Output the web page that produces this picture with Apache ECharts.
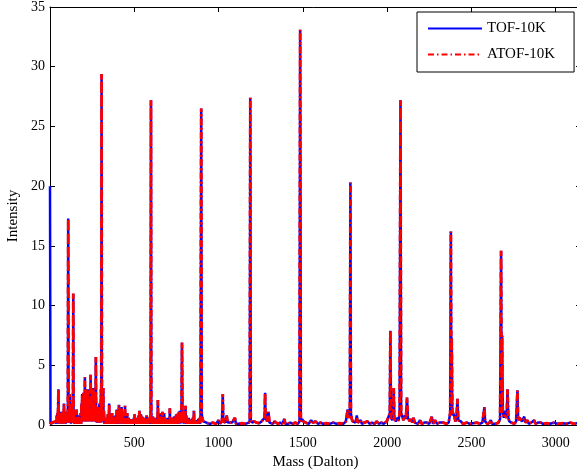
<!DOCTYPE html>
<html><head><meta charset="utf-8">
<script src="https://cdn.jsdelivr.net/npm/echarts@6/dist/echarts.min.js"></script>
<style>html,body{margin:0;padding:0;background:#fff}#c{width:577px;height:474px}</style>
</head><body><div id="c"></div>
<script>
// [mass (Dalton), intensity]
const lowMassTOF  = [[0,20],[3,0.1],[12,0.1],[20,0.2],[28,0.2],[35,0.3],[38,0.1]];
const lowMassATOF = [[0,0.1],[3,0.1],[12,0.2],[20,0.3],[28,0.3],[35,0.4],[38,0.1]];

// 40 - 904 Da: both traces coincide (dense region)
const denseRegion = [[40,0.8],[42,0.1],[44,1.0],[46,0.2],[48,1.3],[50,3.0],[52,0.2],[54,1.0],[56,0.1],[58,0.8],[60,0.1],[62,1.1],[64,0.2],[66,0.9],[68,0.1],[70,1.0],[72,0.2],[74,1.1],[76,0.1],[78,0.8],[80,0.2],[83,1.8],[85,0.1],[87,1.0],[89,0.2],[92,1.1],[94,0.1],[96,0.9],[99,0.2],[102,1.1],[104,0.2],[106,1.5],[108,17.3],[110,1.5],[112,0.2],[114,1.0],[116,0.2],[118,2.6],[120,0.2],[122,1.4],[124,0.1],[126,1.8],[128,0.2],[130,1.2],[132,0.2],[134,1.6],[136,0.3],[138,11.0],[140,0.3],[142,1.2],[144,0.1],[146,0.6],[149,0.1],[152,0.7],[155,0.1],[158,1.3],[161,0.1],[164,0.6],[167,0.1],[170,0.8],[173,0.1],[176,0.6],[179,0.1],[182,1.0],[185,0.1],[187,1.8],[189,0.3],[191,2.6],[193,0.3],[195,1.6],[197,0.3],[199,2.7],[201,0.3],[203,1.4],[205,0.3],[207,4.0],[209,0.3],[211,2.2],[213,3.0],[215,0.3],[217,1.8],[219,0.3],[221,2.8],[223,0.5],[225,3.0],[227,0.3],[229,1.8],[231,0.3],[233,2.4],[235,0.3],[237,1.6],[239,0.3],[241,4.2],[243,0.4],[245,2.2],[247,0.3],[249,3.1],[251,0.3],[253,1.8],[255,0.4],[257,3.1],[259,0.3],[261,1.6],[263,0.3],[265,2.7],[267,0.3],[269,1.6],[270,0.3],[272,5.7],[274,0.3],[276,1.3],[278,0.2],[280,1.5],[282,0.2],[284,1.0],[286,0.2],[288,1.3],[290,0.2],[293,1.8],[295,0.2],[298,1.1],[300,0.2],[302,3.0],[304,0.3],[306,29.4],[308,0.3],[310,3.0],[312,0.3],[314,1.6],[316,3.1],[318,0.2],[320,1.2],[322,0.1],[325,0.6],[328,0.1],[331,0.3],[334,0.1],[337,0.5],[340,0.1],[343,0.9],[345,0.1],[347,0.8],[349,0.1],[351,1.8],[353,0.1],[356,0.6],[358,0.1],[360,0.9],[362,0.1],[364,0.5],[366,0.1],[368,1.0],[371,0.1],[374,0.5],[376,0.1],[378,0.7],[380,0.1],[383,0.4],[385,0.1],[387,0.8],[389,0.1],[391,0.6],[393,0.1],[396,1.3],[398,0.1],[401,0.6],[403,0.1],[405,1.1],[407,0.1],[409,1.7],[411,0.1],[413,0.9],[415,0.1],[417,1.3],[419,0.1],[421,0.7],[423,0.1],[425,1.5],[427,0.1],[429,0.9],[431,0.1],[433,1.1],[435,0.1],[437,0.5],[439,0.1],[441,0.9],[443,0.1],[445,1.6],[447,0.1],[449,0.6],[451,0.1],[453,0.9],[455,0.1],[458,1.0],[460,0.1],[462,0.5],[465,0.1],[467,0.6],[470,0.1],[472,0.4],[475,0.1],[477,0.5],[480,0.1],[482,0.4],[485,0.1],[487,0.5],[490,0.1],[492,0.3],[495,0.1],[497,0.6],[500,0.1],[502,0.9],[504,0.1],[506,0.5],[508,0.1],[510,0.6],[513,0.1],[515,0.4],[518,0.1],[520,0.6],[523,0.1],[525,0.8],[528,0.1],[530,1.2],[533,0.1],[535,0.6],[538,0.1],[540,0.9],[542,0.1],[544,0.5],[546,0.1],[548,0.7],[551,0.1],[553,0.5],[556,0.1],[558,0.6],[561,0.1],[563,0.4],[566,0.1],[568,0.6],[571,0.1],[573,0.8],[576,0.1],[578,0.5],[581,0.1],[583,0.6],[586,0.1],[588,0.5],[591,0.1],[594,0.7],[596,0.2],[597,1.0],[599,27.2],[601,1.0],[603,0.1],[605,0.5],[608,0.1],[610,0.7],[613,0.1],[615,0.4],[618,0.1],[620,0.6],[623,0.1],[625,0.4],[628,0.1],[630,0.6],[633,0.1],[635,0.4],[638,0.1],[640,2.1],[642,0.1],[644,0.6],[646,0.1],[648,0.9],[651,0.1],[653,0.4],[655,0.1],[657,1.0],[660,0.1],[662,0.5],[665,0.1],[667,1.1],[670,0.1],[672,0.6],[675,0.1],[677,1.0],[680,0.1],[682,0.4],[685,0.1],[687,0.5],[690,0.1],[692,0.3],[695,0.1],[697,0.6],[700,0.1],[702,0.4],[705,0.1],[707,0.5],[709,0.1],[711,1.4],[713,0.1],[715,0.5],[718,0.1],[720,0.4],[723,0.1],[725,0.6],[728,0.1],[730,0.5],[733,0.1],[735,0.7],[738,0.1],[740,0.6],[743,0.1],[745,0.8],[748,0.1],[750,0.9],[753,0.1],[755,0.8],[758,0.1],[760,1.0],[763,0.1],[765,1.1],[768,0.1],[770,1.2],[773,0.1],[775,1.0],[778,0.2],[780,1.3],[783,6.9],[786,1.3],[788,0.2],[790,1.1],[793,0.1],[795,1.2],[798,0.1],[800,0.9],[802,0.1],[804,1.6],[806,0.1],[808,0.8],[811,0.1],[813,0.6],[816,0.1],[818,0.5],[821,0.1],[824,0.6],[827,0.1],[830,0.4],[833,0.1],[836,0.3],[839,0.1],[842,0.5],[845,0.1],[848,0.6],[851,0.1],[854,1.2],[856,0.1],[858,0.4],[862,0.1],[865,0.3],[868,0.1],[872,0.4],[876,0.1],[880,0.5],[884,0.1],[888,0.6],[891,0.1],[893,0.8],[897,26.5],[900,1.0],[904,0.5]];

// 910 - 3150 Da, shared by both traces
const highMassShared = [[910,0.3],[920,0.2],[935,0.15],[950,0.1],[965,0.2],[985,0.1],[1000,0.4],[1008,0.1],[1020,0.3],[1025,2.6],[1028,0.3],[1040,0.2],[1048,0.8],[1054,0.2],[1065,0.1],[1080,0.2],[1097,0.6],[1103,0.1],[1120,0.1],[1140,0.15],[1160,0.1],[1180,0.2],[1185,0.4],[1188,27.4],[1191,0.4],[1200,0.2],[1212,0.3],[1225,0.2],[1240,0.15],[1255,0.3],[1265,0.2],[1273,0.6],[1276,2.7],[1279,0.6],[1288,0.3],[1296,1.1],[1302,0.2],[1312,0.3],[1322,0.1],[1332,0.3],[1342,0.2],[1352,0.1],[1365,0.2],[1378,0.1],[1390,0.5],[1396,0.1],[1410,0.1],[1425,0.2],[1440,0.1],[1455,0.2],[1470,0.1],[1480,0.3],[1484,33.1],[1488,0.3],[1496,0.5],[1503,0.3],[1510,0.4],[1517,0.2],[1525,0.3],[1535,0.1],[1549,0.4],[1560,0.2],[1575,0.3],[1590,0.1],[1605,0.2],[1620,0.1],[1640,0.15],[1660,0.1],[1680,0.2],[1700,0.1],[1720,0.15],[1740,0.1],[1755,0.3],[1766,1.3],[1772,0.6],[1779,1.0],[1782,20.3],[1785,1.0],[1790,0.5],[1796,0.3],[1804,0.4],[1812,0.2],[1826,0.2],[1835,0.3],[1843,0.4],[1850,0.1],[1865,0.2],[1883,0.3],[1895,0.1],[1910,0.2],[1925,0.1],[1938,0.3],[1950,0.1],[1965,0.2],[1980,0.1],[1998,0.3],[2008,0.2],[2016,1.0],[2019,7.9],[2023,0.6],[2030,0.4],[2036,0.8],[2039,3.1],[2043,0.5],[2052,0.3],[2068,0.4],[2074,1.0],[2079,27.2],[2083,1.0],[2090,1.1],[2097,0.4],[2105,0.8],[2111,0.5],[2118,2.3],[2123,0.6],[2128,0.6],[2135,0.3],[2142,0.5],[2149,0.2],[2156,0.6],[2164,0.2],[2172,0.3],[2182,0.1],[2195,0.4],[2205,0.1],[2220,0.2],[2235,0.2],[2250,0.1],[2265,0.7],[2272,0.1],[2285,0.4],[2295,0.1],[2310,0.2],[2334,0.2],[2350,0.1],[2365,0.2],[2374,1.0],[2378,16.2],[2381,1.5],[2383,7.3],[2387,0.8],[2392,1.0],[2397,0.8],[2405,0.3],[2412,0.8],[2417,2.2],[2422,0.4],[2437,0.3],[2450,0.1],[2473,0.2],[2490,0.1],[2510,0.15],[2532,0.2],[2550,0.1],[2565,0.2],[2574,0.3],[2577,1.5],[2581,0.3],[2595,0.1],[2607,0.2],[2615,0.4],[2623,0.1],[2631,0.2],[2645,0.1],[2660,0.2],[2670,0.5],[2676,14.6],[2679,1.0],[2682,7.5],[2686,1.0],[2692,0.6],[2709,0.6],[2714,3.0],[2719,0.6],[2725,0.3],[2737,0.2],[2746,0.3],[2755,0.1],[2765,0.3],[2773,2.9],[2777,0.4],[2785,0.6],[2793,0.5],[2800,0.3],[2820,0.2],[2832,0.4],[2840,0.1],[2855,0.2],[2872,0.4],[2880,0.1],[2895,0.2],[2912,0.2],[2925,0.1],[2945,0.15],[2967,0.1],[2990,0.2],[3010,0.1],[3040,0.15],[3065,0.1],[3086,0.2],[3110,0.1],[3130,0.15],[3150,0.1]];

// points where the two traces visibly differ
const highMassTOF  = [[1820,0.8],[2061,0.6],[2697,1.2],[2703,1.1],[2813,0.7]];
const highMassATOF = [[1820,0.6],[2061,0.4],[2697,0.8],[2703,0.8],[2813,0.5]];

const seriesNames = ['TOF-10K', 'ATOF-10K'];
const xLimits = [0, 3150], xStep = 500;
const yLimits = [0, 35], yStep = 5;

const byMass = (a, b) => a[0] - b[0];
const tofData  = [].concat(lowMassTOF,  denseRegion, highMassShared, highMassTOF).sort(byMass);
const atofData = [].concat(lowMassATOF, denseRegion, highMassShared, highMassATOF).sort(byMass);

const font = 'Liberation Serif';
const chart = echarts.init(document.getElementById('c'), null, {renderer: 'canvas'});

function frameAxis(extra) {
  return Object.assign({
    type: 'value',
    axisLine: {show: true, onZero: false, lineStyle: {color: '#000', width: 1}},
    axisTick: {show: true, inside: true, length: 5, lineStyle: {color: '#000', width: 1}},
    splitLine: {show: false},
    axisLabel: {show: false}
  }, extra);
}

const option = {
  animation: false,
  backgroundColor: '#fff',
  grid: {left: 50, top: 7, width: 531, bottom: 49, containLabel: false, outerBoundsMode: 'none'},
  legend: {
    orient: 'vertical', left: 417, top: 12,
    padding: [9, 19, 10, 10],
    itemWidth: 54, itemHeight: 14, itemGap: 11,
    backgroundColor: '#fff', borderColor: '#000', borderWidth: 1, borderRadius: 0,
    textStyle: {fontFamily: font, fontSize: 15, color: '#000'},
    itemStyle: {color: 'rgba(0,0,0,0)', borderColor: 'rgba(0,0,0,0)', borderWidth: 0},
    lineStyle: {width: 2},
    data: seriesNames
  },
  xAxis: [
    frameAxis({
      position: 'bottom', min: xLimits[0], max: xLimits[1], interval: xStep,
      name: 'Mass (Dalton)', nameLocation: 'middle', nameGap: 29,
      nameTextStyle: {fontFamily: font, fontSize: 15, color: '#000'},
      axisLabel: {show: true, fontFamily: font, fontSize: 14, color: '#000', margin: 11,
        formatter: v => v === 0 ? '' : String(v)}
    }),
    frameAxis({position: 'top', min: xLimits[0], max: xLimits[1], interval: xStep})
  ],
  yAxis: [
    frameAxis({
      position: 'left', min: yLimits[0], max: yLimits[1], interval: yStep,
      name: 'Intensity', nameLocation: 'middle', nameGap: 24,
      nameTextStyle: {fontFamily: font, fontSize: 15, color: '#000'},
      axisLabel: {show: true, fontFamily: font, fontSize: 14, color: '#000', margin: 5}
    }),
    frameAxis({position: 'right', min: yLimits[0], max: yLimits[1], interval: yStep})
  ],
  series: [
    {
      name: seriesNames[0], type: 'line', xAxisIndex: 0, yAxisIndex: 0,
      data: tofData,
      symbol: 'none', sampling: null,
      itemStyle: {color: '#0000ff'},
      lineStyle: {color: '#0000ff', width: 2.5}
    },
    {
      name: seriesNames[1], type: 'line', xAxisIndex: 0, yAxisIndex: 0,
      data: atofData,
      symbol: 'none', sampling: null,
      itemStyle: {color: '#ff0000'},
      lineStyle: {color: '#ff0000', width: 2.8, type: [6, 3, 1.5, 3]}
    }
  ]
};
chart.setOption(option);
</script>
</body></html>
